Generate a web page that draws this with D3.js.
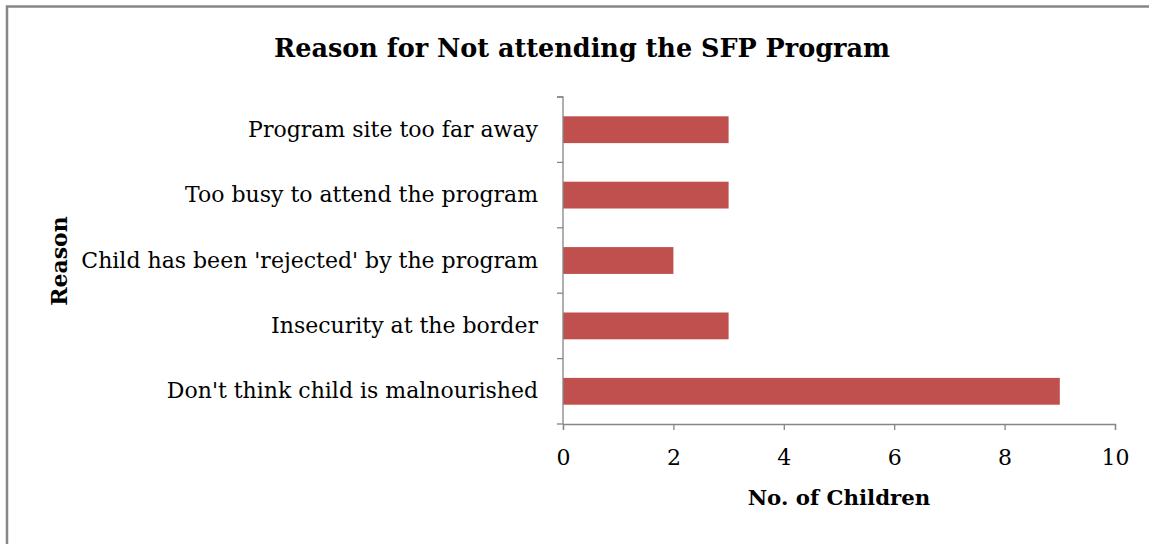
<!DOCTYPE html>
<html><head><meta charset="utf-8">
<script src="https://cdn.jsdelivr.net/npm/d3@7"></script>
<style>body{margin:0;background:#fff}svg{display:block}</style>
</head><body>
<script>
const categories = ["Program site too far away","Too busy to attend the program","Child has been 'rejected' by the program","Insecurity at the border","Don't think child is malnourished"];
const values = [3,3,2,3,9];
const xTicks = [0,2,4,6,8,10];
const title = "Reason for Not attending the SFP Program";
const xTitle = "No. of Children";
const yTitle = "Reason";

(function(){
const W=1149,H=544;
const svg=d3.select("body").append("svg").attr("width",W).attr("height",H);
svg.append("rect").attr("x",7).attr("y",6.5).attr("width",1160).attr("height",560)
  .attr("fill","#fff").attr("stroke","#878787").attr("stroke-width",2.5);
const font="'DejaVu Serif', serif";
const pl=563,pr=1115,pt=97,pb=424;
const x=d3.scaleLinear().domain([0,10]).range([pl,pr]);
const y=d3.scaleBand().domain(categories).range([pt,pb]).paddingInner(0.59).paddingOuter(0.295);
const yb=d3.scaleBand().domain(categories).range([pt,pb]);
const g=svg.append("g");
g.selectAll("rect.bar").data(categories).join("rect").attr("class","bar")
 .attr("x",x(0)).attr("y",d=>y(d)).attr("height",y.bandwidth())
 .attr("width",(d,i)=>x(values[i])-x(0)).attr("fill","#C0504D");
const axisColor="#868686";
const xa=svg.append("g").attr("transform",`translate(0,${pb})`).call(d3.axisBottom(x).tickValues(xTicks).tickSize(6).tickPadding(19));
xa.select(".domain").attr("stroke",axisColor).attr("stroke-width",1.3);
xa.selectAll(".tick line").attr("stroke",axisColor).attr("stroke-width",1.3);
xa.selectAll(".tick text").attr("font-family",font).attr("font-size",22).attr("fill","#000");
const ya=svg.append("g").attr("transform",`translate(${pl},0)`).call(d3.axisLeft(yb).tickSize(0).tickPadding(25));
ya.select(".domain").attr("stroke",axisColor).attr("stroke-width",1.3).attr("d",`M-6,${pt}H0V${pb}`);
ya.selectAll(".tick text").attr("font-family",font).attr("font-size",22).attr("fill","#000");
const bnd=[...categories.map(c=>yb(c)),pb];
svg.append("g").selectAll("line").data(bnd).join("line")
 .attr("x1",pl-6).attr("x2",pl).attr("y1",d=>d).attr("y2",d=>d).attr("stroke",axisColor).attr("stroke-width",1.3);
svg.append("text").attr("x",582).attr("y",57).attr("text-anchor","middle").attr("font-family",font).attr("font-weight","bold").attr("font-size",25.5).text(title);
svg.append("text").attr("x",839).attr("y",505).attr("text-anchor","middle").attr("font-family",font).attr("font-weight","bold").attr("font-size",21.3).text(xTitle);
svg.append("text").attr("transform","translate(67,261) rotate(-90)").attr("text-anchor","middle").attr("font-family",font).attr("font-weight","bold").attr("font-size",22).text(yTitle);
})();
</script>
</body></html>
